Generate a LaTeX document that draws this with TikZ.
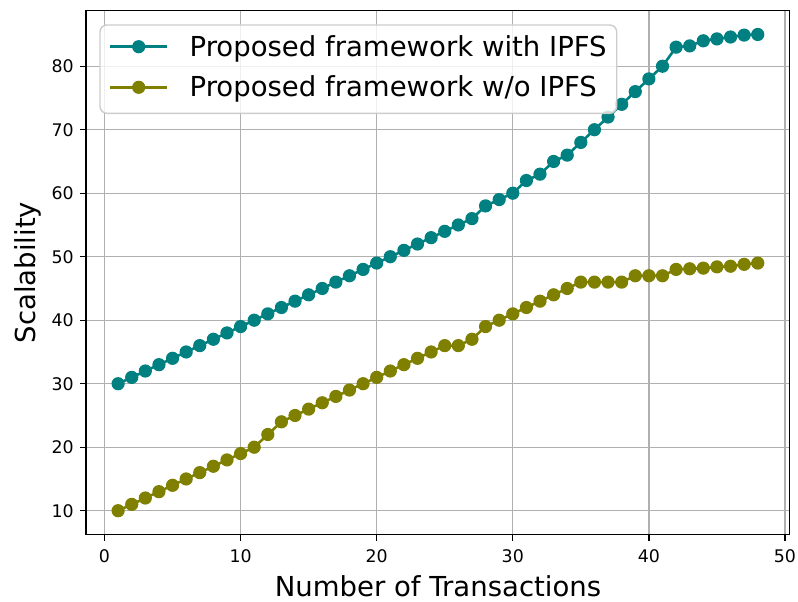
\documentclass[tikz,border=0pt]{standalone}
\usepackage{fontspec}
\setmainfont{DejaVu Sans}
\usepackage{xcolor}
\usetikzlibrary{positioning}

\definecolor{ipfs}{RGB}{0,128,128}
\definecolor{noipfs}{RGB}{128,128,0}
\definecolor{gridgray}{HTML}{B0B0B0}
\definecolor{framegray}{HTML}{CCCCCC}

\begin{document}
\begin{tikzpicture}[x=0.576pt, y=-0.576pt,
        series/.style={line width=1.5pt, mark=*, mark size=3.4pt,
                mark options={solid, line width=0.8pt}},
        gridline/.style={gridgray, line width=0.8pt},
        ticklab/.style={inner sep=0pt, font=\fontsize{10}{12}\selectfont},
        biglab/.style={inner sep=0pt, font=\fontsize{15.85}{19}\selectfont}
        ]
        \useasboundingbox (0,0) rectangle (798,601);

        % axes in data units
        \begin{scope}[xshift=60.19pt, yshift=-330.74pt, x=7.839pt, y=3.6576pt]
                \foreach \gx in {0,10,...,50} {
                        \draw[gridline] (\gx,6.25) -- (\gx,88.75);
                    }
                \foreach \gy in {10,20,...,80} {
                        \draw[gridline] (-1.35,\gy) -- (50.35,\gy);
                    }

                % with IPFS
                \draw[series, ipfs] plot coordinates {
                        (1,30) (2,31) (3,32) (4,33) (5,34) (6,35) (7,36) (8,37)
                        (9,38) (10,39) (11,40) (12,41) (13,42) (14,43) (15,44) (16,45)
                        (17,46) (18,47) (19,48) (20,49) (21,50) (22,51) (23,52) (24,53)
                        (25,54) (26,55) (27,56) (28,58) (29,59) (30,60) (31,62) (32,63)
                        (33,65) (34,66) (35,68) (36,70) (37,72) (38,74) (39,76) (40,78)
                        (41,80) (42,83) (43,83.2) (44,84) (45,84.3) (46,84.6) (47,84.9) (48,85)};
                % w/o IPFS
                \draw[series, noipfs] plot coordinates {
                        (1,10) (2,11) (3,12) (4,13) (5,14) (6,15) (7,16) (8,17)
                        (9,18) (10,19) (11,20) (12,22) (13,24) (14,25) (15,26) (16,27)
                        (17,28) (18,29) (19,30) (20,31) (21,32) (22,33) (23,34) (24,35)
                        (25,36) (26,36) (27,37) (28,39) (29,40) (30,41) (31,42) (32,43)
                        (33,44) (34,45) (35,46) (36,46) (37,46) (38,46) (39,47) (40,47)
                        (41,47) (42,48) (43,48.1) (44,48.2) (45,48.4) (46,48.5) (47,48.8) (48,49)};

                \draw[line width=0.8pt] (-1.35,6.25) rectangle (50.35,88.75);

                % ticks and tick labels
                \foreach \gx in {0,10,...,50} {
                        \draw[line width=0.8pt] (\gx,6.25) -- ++(0,-3.5pt);
                        \node[ticklab, anchor=north, yshift=-8.5pt] (xt\gx) at (\gx,6.25) {\gx};
                    }
                \foreach \gy in {10,20,...,80} {
                        \draw[line width=0.8pt] (-1.35,\gy) -- ++(-3.5pt,0);
                        \node[ticklab, anchor=east, xshift=-7pt] (yt\gy) at (-1.35,\gy) {\gy};
                    }
        \end{scope}

        % axis labels
        \node[biglab, anchor=base] (xlab) at (438,596) {Number of Transactions};
        \node[biglab, anchor=base, rotate=90] (ylab) at (35,272.5) {Scalability};

        % legend
        \draw[framegray, fill=white, fill opacity=0.8, line width=0.8pt, rounded corners=4pt]
        (100,25) rectangle (616.7,113.3);
        \draw[ipfs, line width=1.5pt] (110,46.7) -- (167.3,46.7);
        \fill[ipfs] (138.7,46.7) circle (3.8pt);
        \node[biglab, anchor=base west] (leg1) at (189.3,56) {Proposed framework with IPFS};
        \draw[noipfs, line width=1.5pt] (110,87.3) -- (167.3,87.3);
        \fill[noipfs] (138.7,87.3) circle (3.8pt);
        \node[biglab, anchor=base west] (leg2) at (189.3,96.7) {Proposed framework w/o IPFS};
    \end{tikzpicture}
\end{document}
